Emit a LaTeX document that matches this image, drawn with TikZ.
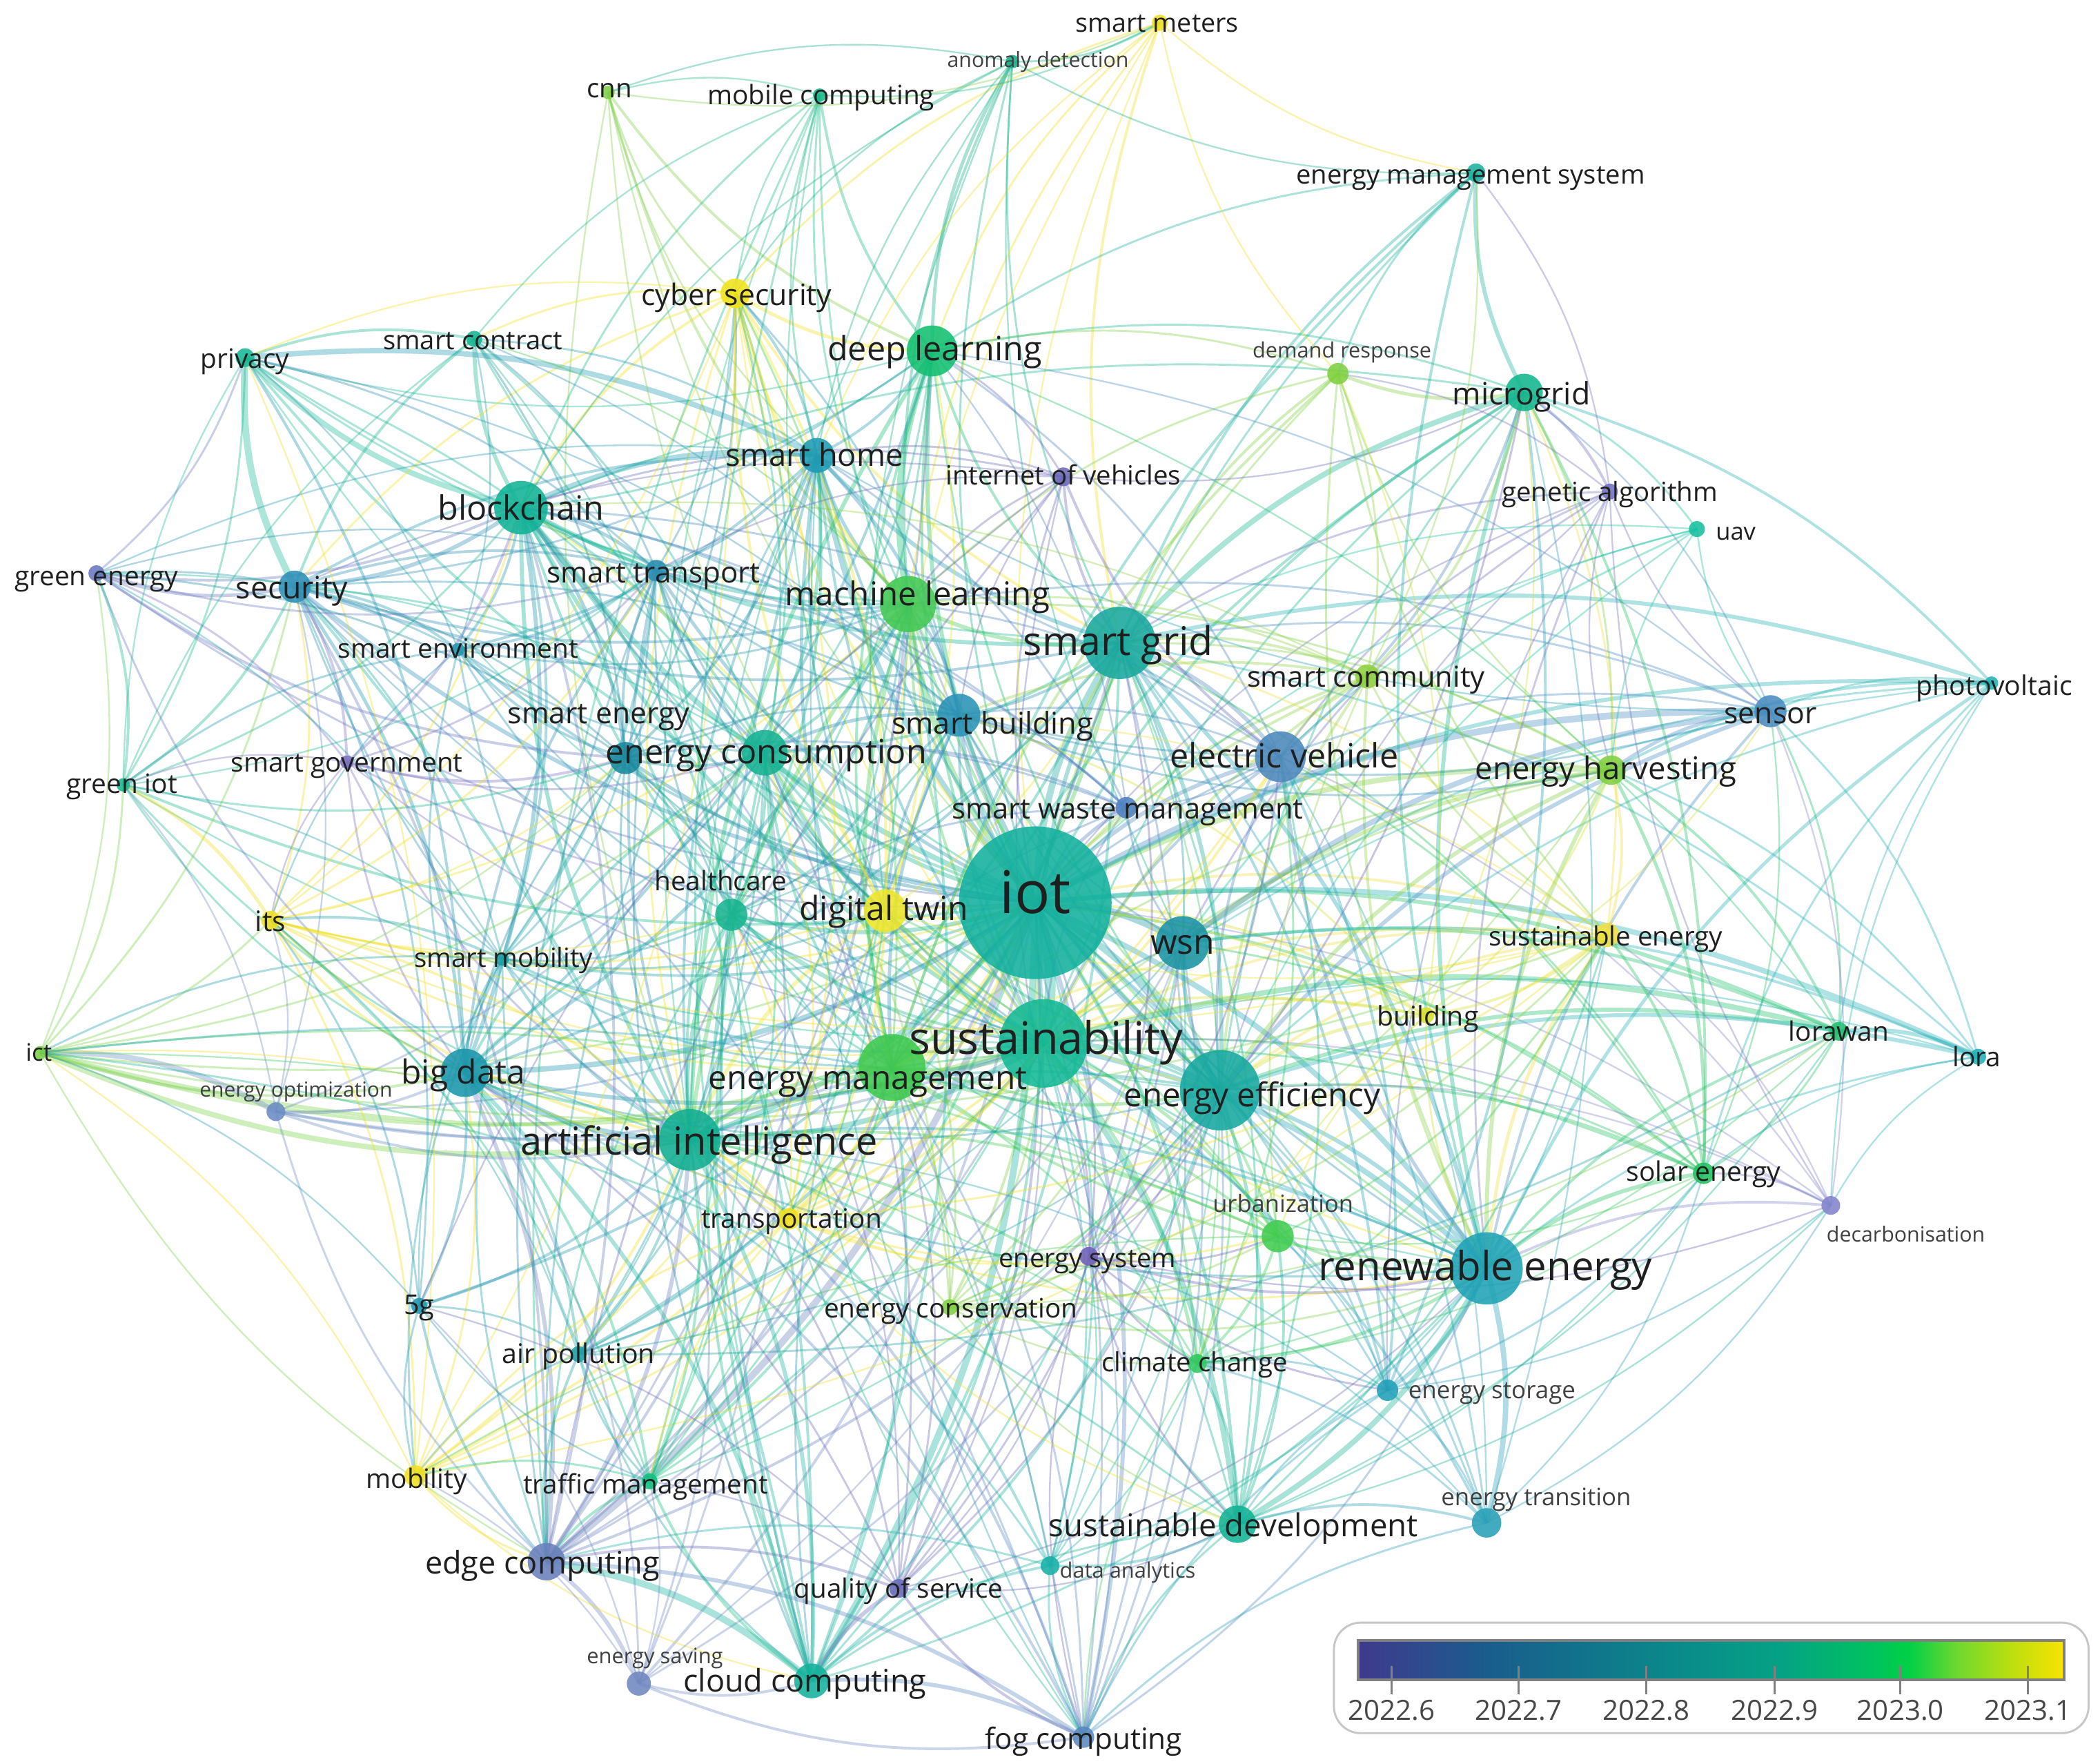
\documentclass[tikz,border=0pt]{standalone}
\usepackage{fontspec}
\setmainfont{Open Sans}
\pgfdeclarelayer{bg}\pgfdeclarelayer{fg}\pgfsetlayers{bg,main,fg}
\definecolor{v0}{HTML}{3F3A8C}\definecolor{v1}{HTML}{2C4C8E}\definecolor{v2}{HTML}{1A5C8C}
\definecolor{v3}{HTML}{12708C}\definecolor{v4}{HTML}{0A8A8A}\definecolor{v5}{HTML}{05A284}
\definecolor{v6}{HTML}{00C35E}\definecolor{v7}{HTML}{00D046}\definecolor{v8}{HTML}{70D830}
\definecolor{v9}{HTML}{B8DE10}\definecolor{v10}{HTML}{F8E300}
\pgfdeclarehorizontalshading{vir}{100bp}{color(0bp)=(v0); color(25bp)=(v0); color(30bp)=(v1); color(34bp)=(v2); color(40bp)=(v3); color(47.5bp)=(v4); color(55bp)=(v5); color(61.5bp)=(v6); color(64bp)=(v7); color(67.5bp)=(v8); color(71bp)=(v9); color(75bp)=(v10); color(100bp)=(v10)}
\newcommand\kwnode[5]{\definecolor{c-#1}{HTML}{#5}\node[kw,fill=c-#1,minimum size=#4*0.2mm] (#1) at (#2,#3) {};}
\newcommand\linksfrom[2]{\foreach \nb/\lw in {#2} {\draw[link,draw=c-\nb,line width=\lw*0.1mm] (#1.center) to (\nb.center);}}
\tikzset{
  kw/.style={circle,inner sep=0pt,draw=none,fill opacity=0.88},
  link/.style={draw opacity=0.36,bend left=15},
  lbl/.style={font=\fontsize{#1}{#1}\selectfont,text=black!88,inner sep=0pt,text height=0.72em,text depth=0.2em},
  slbl/.style={font=\fontsize{#1}{#1}\selectfont,text=black!75,inner sep=0pt,text height=0.72em,text depth=0.2em},
  legtxt/.style={font=\fontsize{5.9pt}{5.9pt}\selectfont,text=black!72,inner sep=0pt}
}
\begin{document}
\begin{tikzpicture}[x=0.1mm,y=-0.1mm]
\useasboundingbox (0,0) rectangle (1568,1317);
% ---------------- nodes
\kwnode{iot}{773}{674}{57}{12B09E}
\kwnode{sus}{779}{779}{33}{14B896}
\kwnode{sg}{836}{480}{27}{18A89E}
\kwnode{ai}{515}{851}{23}{10AE92}
\kwnode{ee}{911}{814}{30}{16A8A0}
\kwnode{re}{1110}{947}{27}{1FA2B6}
\kwnode{em}{666}{797}{25}{3EC84E}
\kwnode{ml}{678}{451}{21}{42C853}
\kwnode{dl}{696}{262}{19}{12BF70}
\kwnode{bc}{389}{379}{20}{10B296}
\kwnode{wsn}{883}{704}{20}{1A92A2}
\kwnode{ev}{956}{565}{19}{4C88BC}
\kwnode{sb}{716}{534}{16}{2A92B6}
\kwnode{ec}{571}{562}{17}{15B292}
\kwnode{dt}{661}{680}{16}{EEE52C}
\kwnode{mg}{1138}{293}{14}{12B68E}
\kwnode{bd}{347}{801}{18}{1A96AC}
\kwnode{sec}{220}{438}{12}{2E8FB8}
\kwnode{sh}{610}{340}{13}{1E9AB4}
\kwnode{cs}{549}{219}{11}{F2E21A}
\kwnode{sct}{354}{253}{6}{14B592}
\kwnode{prv}{183}{267}{7}{19B896}
\kwnode{ge}{72}{428}{6}{6878C0}
\kwnode{st}{490}{426}{8}{2A8CB0}
\kwnode{senv}{342}{485}{5}{2498B0}
\kwnode{sen}{467}{566}{12}{17889E}
\kwnode{sgov}{259}{569}{5}{7A70C0}
\kwnode{giot}{92}{586}{5}{14B890}
\kwnode{its}{202}{687}{7}{F0E020}
\kwnode{smob}{375}{716}{5}{1AA0A8}
\kwnode{hc}{546}{683}{12}{18B490}
\kwnode{ict}{30}{786}{5}{78D048}
\kwnode{eo}{206}{830}{7}{6C8CC4}
\kwnode{iov}{794}{356}{7}{6A68B8}
\kwnode{swm}{841}{603}{8}{5080C0}
\kwnode{scom}{1021}{505}{9}{90D040}
\kwnode{eh}{1203}{575}{11}{80D040}
\kwnode{sens}{1322}{531}{12}{4A8CC0}
\kwnode{pv}{1487}{510}{5}{22B2B2}
\kwnode{dr}{999}{279}{8}{80D040}
\kwnode{ga}{1202}{367}{6}{7070C0}
\kwnode{uav}{1267}{395}{6}{16C0A0}
\kwnode{ems}{1102}{129}{7}{18B0A0}
\kwnode{smet}{866}{17}{6}{F0E020}
\kwnode{ad}{756}{46}{5}{12B088}
\kwnode{mc}{612}{71}{5}{18B888}
\kwnode{cnn}{454}{69}{5}{80CF48}
\kwnode{sue}{1200}{698}{9}{F0E040}
\kwnode{bld}{1065}{758}{6}{D8E030}
\kwnode{lwan}{1373}{770}{7}{20C070}
\kwnode{lora}{1477}{789}{6}{22B0B8}
\kwnode{sol}{1272}{876}{8}{22C060}
\kwnode{dec}{1367}{900}{7}{8484CC}
\kwnode{urb}{954}{923}{12}{40CC50}
\kwnode{esys}{813}{938}{7}{7060B8}
\kwnode{trn}{589}{910}{8}{F0E020}
\kwnode{econ}{709}{976}{6}{80D040}
\kwnode{fiveg}{313}{975}{6}{2298B0}
\kwnode{ap}{432}{1011}{6}{1EA0A8}
\kwnode{cc}{894}{1018}{7}{30C860}
\kwnode{es}{1036}{1038}{8}{22A0B8}
\kwnode{et}{1110}{1137}{11}{2AA0B8}
\kwnode{sd}{924}{1138}{14}{12B294}
\kwnode{da}{784}{1169}{7}{18B0A8}
\kwnode{qos}{671}{1186}{7}{6A6CB8}
\kwnode{mob}{310}{1102}{8}{F0E020}
\kwnode{tm}{485}{1106}{6}{10C080}
\kwnode{edc}{408}{1166}{14}{6A80BC}
\kwnode{esav}{477}{1257}{9}{7088C0}
\kwnode{clc}{606}{1255}{13}{14B29C}
\kwnode{fgc}{809}{1297}{8}{5A88C0}
% ---------------- links
\begin{pgfonlayer}{bg}
\fill[white] (0,0) rectangle (1568,1317);
\linksfrom{iot}{sus/8,sg/5,ai/4,ee/5,re/4,em/3,ml/4,dl/3,bc/4,wsn/5,ev/3,sb/3,ec/3,dt/2,mg/2,bd/4,sec/3,sh/4,cs/2,sct/1.5,prv/2,ge/1.5,st/2.5,senv/2,sen/2.5,sgov/1.5,giot/2,its/1.5,smob/2,hc/3,ict/1.5,eo/1.5,iov/1.5,swm/2.5,scom/2,eh/4,sens/5,pv/3,dr/1.5,ga/1.2,uav/1.2,ems/1.5,smet/1.2,ad/1.5,mc/1.5,cnn/1.2,sue/2,bld/2,lwan/3,lora/4,sol/2,dec/1.2,urb/2,esys/1.5,trn/2,econ/2,fiveg/2,ap/2.5,cc/2,es/1.5,et/1.5,sd/2.5,da/1.5,qos/2,mob/2,tm/2,edc/5,esav/2,clc/5,fgc/3}
\linksfrom{sus}{sg/3,ai/4,ee/3,re/4,em/3,ml/2,dl/2,bc/3,wsn/1.5,ev/2,sb/2,ec/2.5,dt/2.5,mg/1.5,bd/3,sec/1.2,sh/2,cs/1.2,prv/1.2,st/1.5,senv/1.2,sen/1.5,sgov/1.2,giot/1.2,its/1.2,smob/2,hc/2,ict/3,eo/2,swm/1.5,scom/2,eh/1.5,sue/2,bld/2,sol/1.5,dec/1.2,urb/2.5,esys/1.5,trn/2,econ/1.5,ap/2,cc/2.5,es/1.5,et/2,sd/4,da/1.5,qos/1.2,mob/1.5,tm/1.5,edc/1.5,clc/2,fgc/1.2,lwan/4,lora/1.2,pv/1.2}
\linksfrom{sg}{ai/2,ee/3,re/3,em/3,ml/3,dl/2,bc/3,wsn/1.5,ev/3,sb/2,ec/2,mg/4,bd/2,sec/2,sh/3,cs/2,prv/1.5,ems/2,smet/2,ad/1.5,dr/2,ga/1.5,sens/1.5,eh/1.5,scom/2,iov/2,es/2,esys/1.5,sol/1.5,pv/3,uav/1.2,dt/1.5,hc/1.2,edc/2,clc/2,fgc/1.5,sd/1.5,et/1.5,sue/1.5,cc/1.2,lora/1.5}
\linksfrom{ai}{ee/2,re/2,em/3,ml/3,dl/3,bc/3,bd/4,sec/1.5,sh/2,cs/1.5,st/2,senv/1.5,sen/1.5,sgov/1.5,giot/1.5,its/2,smob/2,hc/2.5,ict/4,eo/2,dt/3,ec/2,tm/2,ap/2,fiveg/2,mob/2,edc/3,esav/1.5,clc/3,fgc/2,qos/1.5,trn/2,econ/1.5,urb/2,cc/2,sd/2,da/2,sb/2,swm/1.5,cnn/1.2,mc/1.2,ad/1.2,es/1.2}
\linksfrom{ee}{re/3,em/2.5,ml/2,dl/1.5,wsn/3,ev/2,sb/2.5,ec/2,bd/1.5,sh/2,eh/3,sens/3,scom/2,sue/2,bld/2.5,lwan/3,lora/3,sol/2,dec/1.2,urb/1.5,esys/1.2,econ/1.5,cc/1.5,es/2,et/1.5,sd/2.5,da/1.2,qos/1.5,edc/2,clc/2,fgc/1.5,ga/1.2,uav/1.2,mg/1.5,pv/1.5,dt/1.5,hc/1.2,esav/1.5,tm/1.2,ap/1.2}
\linksfrom{re}{em/2,ml/1.5,ev/2.5,mg/3,sens/2,eh/3,sue/2.5,bld/1.5,sol/3,dec/2,urb/2,cc/2.5,es/3,et/4,sd/4,da/1.5,ems/2,dr/1.5,ga/1.5,pv/2.5,scom/2,esys/2,econ/1.5,fgc/1.5,lwan/2,lora/1.5,dt/1.5,bd/1.5,bc/1.5,sb/1.5,hc/1.2,trn/1.5,qos/1.2,clc/1.5}
\linksfrom{em}{ml/3,dl/2,bc/2,ec/2,sb/2.5,sh/2.5,dt/2,mg/2,ems/2,dr/2,eh/1.5,scom/2,bld/2,sue/2,trn/2,econ/1.5,ict/2.5,eo/2,edc/2,clc/2,fgc/1.5,qos/1.5,hc/1.5,smob/1.5,its/1.5,tm/1.5,ap/1.5,cc/1.5,urb/2,sol/1.5,ev/1.5}
\linksfrom{ml}{dl/5,bc/2,ec/2,sh/2.5,cs/2.5,sec/2,prv/1.5,dt/2,bd/2.5,hc/2,ad/2,mc/1.5,cnn/2,iov/1.5,smet/1.5,dr/1.5,sb/2,st/2,senv/1.5,sen/1.5,its/1.5,ap/1.5,edc/2,clc/2,fgc/1.5,tm/1.5,ev/1.5,eh/1.5,sens/1.5,scom/1.5}
\linksfrom{dl}{cs/2.5,sh/2,ad/2.5,mc/2,cnn/2,smet/1.5,iov/1.5,dr/1.5,ems/1.5,ev/1.5,bd/2,hc/1.5,sec/1.5,prv/1.2,bc/1.5,dt/1.5,swm/1.2,edc/1.5,mg/1.5,sens/1.2,lwan/1.2,ec/1.5}
\linksfrom{bc}{sec/3,prv/4,sct/3,cs/2,st/2.5,sh/4,sb/2,sen/2.5,senv/2,sgov/2,ge/2,giot/1.5,smob/2,its/1.5,bd/3,iov/1.5,edc/2,clc/2,fgc/1.5,ec/2,hc/2,mc/1.5,ad/1.2,dt/1.5,swm/1.5,ev/1.5,mg/1.5,scom/1.2}
\linksfrom{sec}{prv/5,sct/2,ge/2.5,giot/2,sgov/2,senv/2,st/2,sh/2,smob/1.5,its/1.5,ict/1.5,bd/2.5,edc/2,clc/2,fgc/1.5,cs/1.5,sen/1.5,eo/1.2,fiveg/1.5,sb/1.5,ec/1.5,iov/1.2}
\linksfrom{prv}{sct/2,ge/1.5,giot/1.5,sh/4,st/1.5,bd/2,cs/1.2,senv/1.2,mob/1.2,ec/1.5,sb/1.2}
\linksfrom{sct}{cs/1.5,sh/1.5,st/1.5,sen/1.5,ec/1.5,senv/1.2,mc/1.2,ml/1.2,hc/1.2,sb/1.2}
\linksfrom{cs}{cnn/1.5,mc/1.2,smet/1.5,ad/1.2,sh/2,st/1.5,dt/2,sen/1.5,hc/1.5,ec/1.5,trn/1.5,its/1.2,smob/1.2,em/1.5,sb/1.5,mob/1.2}
\linksfrom{bd}{ict/2,eo/2,its/2,giot/1.5,sgov/1.5,smob/2,senv/1.5,sen/1.5,st/2,hc/2,ec/2,edc/3,clc/3,fgc/2,fiveg/2,ap/2,tm/2,mob/1.5,esav/1.5,qos/1.5,trn/1.5,da/1.5,ge/1.5}
\linksfrom{edc}{clc/5,fgc/3,esav/3,qos/2,fiveg/2,ap/2,tm/2,mob/1.5,da/1.5,mc/1.5,iov/1.5,st/1.5,hc/1.5,sh/1.5,eo/1.5,smob/1.5,ict/1.2}
\linksfrom{clc}{fgc/3,esav/2,qos/3,da/2,tm/2,ap/1.5,mc/1.5,sh/2,hc/2,sb/1.5,ec/2,st/1.5,sd/1.5,mob/1.2}
\linksfrom{fgc}{qos/2,da/1.5,esav/2,sd/1.5,et/1.5,es/1.5,cc/1.2,hc/1.2,sh/1.2,ec/1.2,esys/1.2}
\linksfrom{mg}{ems/3,dr/2.5,ga/2,uav/1.5,pv/2,sol/2,es/2,ev/2,scom/2,eh/1.5,esys/1.5,sue/1.5,et/1.2,sens/1.2,bld/1.2,iov/1.2}
\linksfrom{ev}{iov/2,ga/1.5,uav/1.2,sol/1.5,es/2,esys/1.5,trn/2,mob/1.5,sd/1.5,cc/1.5,dec/1.2,sens/1.5,scom/1.5,st/1.5,swm/1.2,et/1.2}
\linksfrom{wsn}{eh/3,sens/4,lwan/2.5,lora/2,uav/1.5,ga/1.5,pv/1.5,sol/1.5,ad/1.2,qos/1.5,edc/1.5,clc/1.5,fgc/1.5,sb/1.5,da/1.2,econ/1.5,esav/1.2,swm/1.5,ap/1.2}
\linksfrom{eh}{sens/2.5,pv/2,lwan/2,lora/1.5,sol/2.5,sue/2,uav/1.2,scom/1.5,bld/1.5,sb/1.5,ga/1.2,dr/1.2,econ/1.2}
\linksfrom{sens}{pv/1.5,lora/1.5,lwan/1.5,sol/1.2,uav/1.2,ga/1.2,dec/1.2,sb/1.5,sh/1.2,bld/1.2}
\linksfrom{lwan}{lora/3,sol/1.5,pv/1.2,sd/1.2,cc/1.2,ap/1.5,econ/1.2}
\linksfrom{sue}{sol/2,bld/2,urb/1.5,cc/1.5,econ/1.5,trn/1.5,scom/1.5,dr/1.5,dec/1.2,es/1.2,sd/1.5,ict/1.5,its/1.2,dt/1.2,mob/1.2}
\linksfrom{sol}{dec/1.5,es/1.5,et/1.2,lora/1.2,pv/1.5,urb/1.2,cc/1.2,sd/1.2}
\linksfrom{dec}{et/1.2,ga/1.2,esys/1.2,es/1.2,sd/1.2,pv/1.2,lora/1.2}
\linksfrom{dt}{hc/2,ec/2,trn/2,sb/2,sh/1.5,st/1.5,its/1.5,smob/1.5,urb/1.5,sd/1.5,econ/1.5,mob/1.5,cnn/1.2,ad/1.2,smet/1.2,mc/1.2,tm/1.2,cs/2,sen/1.2,bld/1.5}
\linksfrom{sh}{sb/2.5,st/2,sen/2,senv/2,ec/2.5,hc/2,swm/1.5,iov/1.5,mc/1.5,ad/1.2,smet/1.2,cnn/1.2}
\linksfrom{ec}{sen/2,sb/2.5,st/2,senv/1.5,sgov/1.5,hc/2,swm/2,smob/1.5,trn/1.5,econ/1.5,esav/1.5,eo/1.5,ict/1.5,ap/1.5,tm/1.5,qos/1.5}
\linksfrom{sen}{st/2,senv/2,sgov/2,ge/2,giot/1.5,smob/1.5,its/1.2,hc/1.5,swm/1.5,sb/1.5,ict/1.2}
\linksfrom{sb}{swm/2,scom/2,ev/1.5,iov/1.2,st/1.5,hc/1.5,bld/1.5,sue/1.2}
\linksfrom{hc}{smob/1.5,st/1.5,senv/1.5,its/1.2,trn/1.5,tm/1.2,ap/1.2,swm/1.5,qos/1.2,da/1.2}
\linksfrom{st}{senv/2,sgov/1.5,smob/2,its/1.5,swm/1.5,tm/1.5,ge/1.5,giot/1.2,iov/1.2}
\linksfrom{ge}{giot/2,senv/1.5,sgov/1.5,smob/1.2,st/1.2,sen/1.5,sh/1.2,ec/1.2,ict/1.2}
\linksfrom{giot}{its/2.5,ict/1.5,senv/1.5,sgov/1.2,eo/1.2,smob/1.2,sct/1.2,prv/1.2}
\linksfrom{its}{ict/1.5,smob/2,mob/1.5,fiveg/1.5,trn/2,tm/1.5,eo/1.2,ap/1.2,sgov/1.2,senv/1.2}
\linksfrom{ict}{eo/4,smob/1.5,fiveg/1.2,mob/1.2,trn/1.2,urb/1.5,sd/1.5,cc/1.2,re/1.5}
\linksfrom{mob}{fiveg/1.5,ap/1.5,tm/1.5,trn/1.5,esav/1.2,smob/1.5,urb/1.2}
\linksfrom{tm}{ap/1.5,fiveg/1.2,trn/1.5,smob/1.5,qos/1.2,esav/1.2}
\linksfrom{fiveg}{ap/1.5,smob/1.2,esav/1.2,qos/1.2,iov/1.2}
\linksfrom{urb}{cc/2,sd/2,trn/1.5,esys/1.5,es/1.2,econ/1.5,scom/1.2,bld/1.2}
\linksfrom{cc}{sd/2,et/1.5,es/1.5,esys/1.5,econ/1.2,da/1.2,bld/1.2}
\linksfrom{sd}{et/2,es/1.5,da/2,esys/1.5,qos/1.2,econ/1.2,trn/1.2}
\linksfrom{es}{et/1.5,esys/1.5,ga/1.2}
\linksfrom{esys}{econ/1.2,trn/1.2,iov/1.2,qos/1.2,da/1.2,et/1.2}
\linksfrom{dr}{ems/1.5,scom/1.5,smet/1.2,bld/1.2,ga/1.2}
\linksfrom{ems}{smet/1.2,ad/1.2,scom/1.2,ga/1.2}
\linksfrom{smet}{ad/1.5,mc/1.2,cnn/1.2}
\linksfrom{cnn}{mc/1.2,ad/1.2}
\end{pgfonlayer}
% ---------------- labels
\begin{pgfonlayer}{fg}
\node[lbl=12.5pt] (iot-l) at (773,673) {iot};
\node[lbl=9.5pt] (sus-l) at (781,778) {sustainability};
\node[lbl=8.4pt] (sg-l) at (835,480) {smart grid};
\node[lbl=8.2pt] (ai-l) at (522,853) {artificial intelligence};
\node[lbl=6.97pt] (ee-l) at (935,817) {energy efficiency};
\node[lbl=8.54pt] (re-l) at (1109,947) {renewable energy};
\node[lbl=7pt] (em-l) at (648,804) {energy management};
\node[lbl=6.97pt] (ml-l) at (685,443) {machine learning};
\node[lbl=7.11pt] (dl-l) at (698,260) {deep learning};
\node[lbl=7.11pt] (bc-l) at (389,379) {blockchain};
\node[lbl=7.3pt] (wsn-l) at (883,703) {wsn};
\node[lbl=7.11pt] (ev-l) at (959,564) {electric vehicle};
\node[lbl=6.35pt] (sb-l) at (741,539) {smart building};
\node[lbl=7.11pt] (ec-l) at (572,561) {energy consumption};
\node[lbl=7.06pt] (dt-l) at (660,678) {digital twin};
\node[lbl=6.54pt] (mg-l) at (1136,293) {microgrid};
\node[lbl=7.03pt] (bd-l) at (346,800) {big data};
\node[lbl=6.54pt] (sec-l) at (218,438) {security};
\node[lbl=6.63pt] (sh-l) at (608,339) {smart home};
\node[lbl=6.26pt] (cs-l) at (550,219) {cyber security};
\node[lbl=5.6pt] (sct-l) at (353,252) {smart contract};
\node[lbl=5.69pt] (prv-l) at (183,266) {privacy};
\node[lbl=5.69pt] (ge-l) at (72,428) {green energy};
\node[lbl=6.17pt] (st-l) at (488,426) {smart transport};
\node[lbl=5.69pt] (senv-l) at (342,482) {smart environment};
\node[lbl=6.26pt] (sen-l) at (447,531) {smart energy};
\node[lbl=5.69pt] (sgov-l) at (259,567) {smart government};
\node[lbl=5.69pt] (giot-l) at (91,583) {green iot};
\node[lbl=5.97pt] (its-l) at (202,686) {its};
\node[lbl=5.63pt] (smob-l) at (376,713) {smart mobility};
\node[lbl=5.69pt] (hc-l) at (538,656) {healthcare};
\node[lbl=5.12pt] (ict-l) at (29,783) {ict};
\node[slbl=4.4pt] (eo-l) at (221,810) {energy optimization};
\node[lbl=5.63pt] (iov-l) at (794,353) {internet of vehicles};
\node[lbl=6.12pt] (swm-l) at (842,602) {smart waste management};
\node[lbl=6.12pt] (scom-l) at (1020,504) {smart community};
\node[lbl=6.66pt] (eh-l) at (1199,573) {energy harvesting};
\node[lbl=6.26pt] (sens-l) at (1322,531) {sensor};
\node[lbl=5.75pt] (pv-l) at (1489,510) {photovoltaic};
\node[slbl=4.5pt] (dr-l) at (1002,258) {demand response};
\node[lbl=5.63pt] (ga-l) at (1202,365) {genetic algorithm};
\node[lbl=5.06pt] (uav-l) at (1296,394) {uav};
\node[lbl=5.6pt] (ems-l) at (1098,128) {energy management system};
\node[lbl=5.52pt] (smet-l) at (864,15) {smart meters};
\node[slbl=4.45pt] (ad-l) at (775,41) {anomaly detection};
\node[lbl=5.69pt] (mc-l) at (613,69) {mobile computing};
\node[lbl=5.63pt] (cnn-l) at (455,64) {cnn};
\node[lbl=5.66pt] (sue-l) at (1199,697) {sustainable energy};
\node[lbl=5.75pt] (bld-l) at (1066,757) {building};
\node[lbl=5.69pt] (lwan-l) at (1373,768) {lorawan};
\node[lbl=5.69pt] (lora-l) at (1476,787) {lora};
\node[lbl=5.72pt] (sol-l) at (1272,873) {solar energy};
\node[slbl=4.45pt] (dec-l) at (1423,918) {decarbonisation};
\node[slbl=5.06pt] (urb-l) at (958,896) {urbanization};
\node[lbl=5.58pt] (esys-l) at (812,937) {energy system};
\node[lbl=5.69pt] (trn-l) at (591,908) {transportation};
\node[lbl=5.69pt] (econ-l) at (710,975) {energy conservation};
\node[lbl=5.8pt] (fiveg-l) at (313,972) {5g};
\node[lbl=5.75pt] (ap-l) at (432,1009) {air pollution};
\node[lbl=5.63pt] (cc-l) at (892,1015) {climate change};
\node[slbl=5.12pt] (es-l) at (1114,1035) {energy storage};
\node[slbl=5.1pt] (et-l) at (1147,1115) {energy transition};
\node[lbl=6.69pt] (sd-l) at (921,1138) {sustainable development};
\node[slbl=4.52pt] (da-l) at (842,1169) {data analytics};
\node[lbl=5.66pt] (qos-l) at (671,1184) {quality of service};
\node[lbl=5.69pt] (mob-l) at (311,1102) {mobility};
\node[lbl=5.66pt] (tm-l) at (482,1106) {traffic management};
\node[lbl=6.6pt] (edc-l) at (405,1166) {edge computing};
\node[slbl=4.52pt] (esav-l) at (489,1233) {energy saving};
\node[lbl=6.6pt] (clc-l) at (601,1254) {cloud computing};
\node[lbl=6.2pt] (fgc-l) at (809,1297) {fog computing};
% ---------------- legend
\draw[draw=black!22,line width=0.15mm,fill=white,rounded corners=2mm] (996,1211.5) rectangle (1559.5,1294);
\shade[shading=vir] (1014,1225) rectangle (1541,1254);
\draw[black!50,line width=0.2mm] (1014,1225) rectangle (1541,1254);
\foreach \x/\t/\k in {1039/2022.6/1,1134/2022.7/2,1229/2022.8/3,1325/2022.9/4,1419/2023.0/5,1514/2023.1/6} {
  \coordinate (tk\k) at (\x,1244);
  \draw[black!50,line width=0.15mm] (tk\k) -- ++(0,21);
  \node[legtxt] (tl\k) at (\x,1277) {\t};
}
\end{pgfonlayer}
\end{tikzpicture}
\end{document}
